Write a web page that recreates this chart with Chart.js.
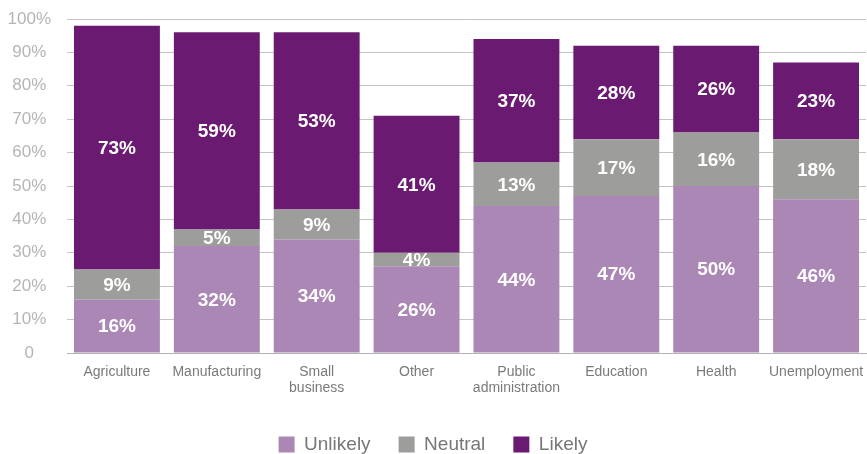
<!DOCTYPE html>
<html>
<head>
<meta charset="utf-8">
<script src="https://cdn.jsdelivr.net/npm/chart.js@4/dist/chart.umd.min.js"></script>
<style>
  html, body { margin: 0; padding: 0; background: #fff; }
  #wrap { width: 867px; height: 454px; position: relative; }
</style>
</head>
<body>
<div id="wrap"><canvas id="c"></canvas></div>
<script>
const categories = ["Agriculture", "Manufacturing", ["Small", "business"], "Other", ["Public", "administration"], "Education", "Health", "Unemployment"];
const unlikely = [16, 32, 34, 26, 44, 47, 50, 46];
const neutral  = [9, 5, 9, 4, 13, 17, 16, 18];
const likely   = [73, 59, 53, 41, 37, 28, 26, 23];
const seriesNames = ["Unlikely", "Neutral", "Likely"];
const yTicks = [0, 10, 20, 30, 40, 50, 60, 70, 80, 90, 100];

const colors = ["#ab87b5", "#9d9d9b", "#6a1b71"];

const valueLabels = {
  id: 'valueLabels',
  afterDatasetsDraw(chart) {
    const ctx = chart.ctx;
    ctx.save();
    ctx.fillStyle = '#ffffff';
    ctx.font = 'bold 19px "Liberation Sans", Arial, sans-serif';
    ctx.textAlign = 'center';
    ctx.textBaseline = 'middle';
    chart.data.datasets.forEach((ds, i) => {
      const meta = chart.getDatasetMeta(i);
      meta.data.forEach((el, j) => {
        const p = el.getProps(['x', 'y', 'base'], true);
        ctx.fillText(ds.data[j] + '%', p.x, (p.y + p.base) / 2 + 1);
      });
    });
    ctx.restore();
  }
};

new Chart(document.getElementById('c'), {
  type: 'bar',
  data: {
    labels: categories,
    datasets: [
      { label: seriesNames[0], data: unlikely, backgroundColor: colors[0], borderWidth: 0 },
      { label: seriesNames[1], data: neutral,  backgroundColor: colors[1], borderWidth: 0 },
      { label: seriesNames[2], data: likely,   backgroundColor: colors[2], borderWidth: 0 }
    ]
  },
  options: {
    responsive: true,
    maintainAspectRatio: false,
    animation: false,
    layout: { padding: { left: 0, right: 1, top: 19, bottom: -10 } },
    datasets: { bar: { categoryPercentage: 1, barPercentage: 0.86 } },
    scales: {
      x: {
        stacked: true,
        grid: { display: false, drawTicks: false },
        border: { display: true, color: '#b3b3b3', width: 1 },
        ticks: {
          color: '#7a7a7a',
          font: { family: '"Liberation Sans", Arial, sans-serif', size: 14, lineHeight: 1.15 },
          padding: 11,
          maxRotation: 0,
          autoSkip: false
        },
        afterFit(scale) { scale.height = 54; scale.paddingLeft = 0; scale.paddingRight = 0; }
      },
      y: {
        stacked: true,
        min: 0,
        max: 100,
        afterBuildTicks(scale) { scale.ticks = yTicks.map(v => ({ value: v })); },
        grid: { color: '#c4c4c4', lineWidth: 1, drawTicks: false },
        border: { display: false },
        ticks: {
          color: '#b5b5b5',
          font: { family: '"Liberation Sans", Arial, sans-serif', size: 17 },
          padding: 16,
          crossAlign: 'center',
          callback: v => v === 0 ? '0' : v + '%'
        },
        afterFit(scale) { scale.width = 67; scale.paddingTop = 0; scale.paddingBottom = 0; }
      }
    },
    plugins: {
      legend: {
        position: 'bottom',
        labels: {
          boxWidth: 16,
          boxHeight: 16,
          padding: 28,
          color: '#777777',
          font: { family: '"Liberation Sans", Arial, sans-serif', size: 19 }
        }
      },
      tooltip: { enabled: false }
    }
  },
  plugins: [valueLabels]
});
</script>
</body>
</html>
